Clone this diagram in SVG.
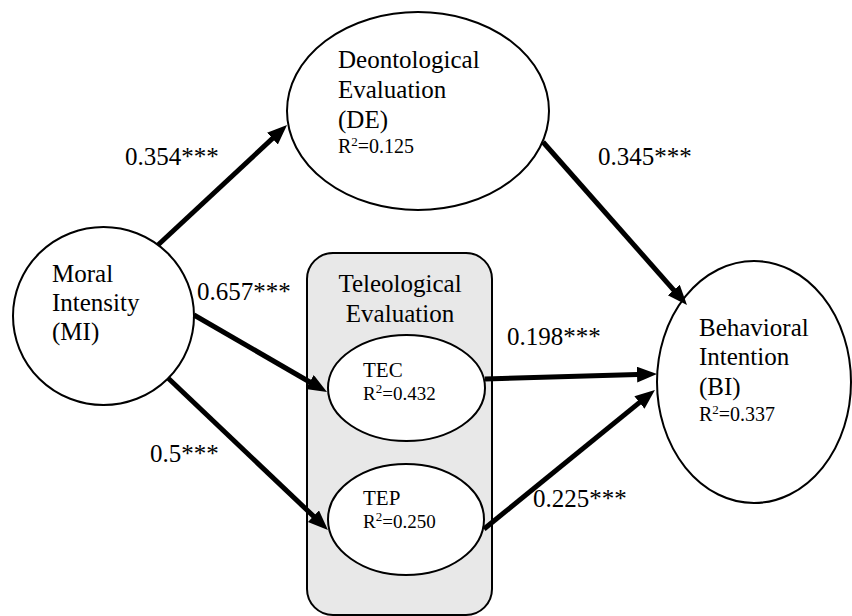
<svg xmlns="http://www.w3.org/2000/svg" width="852" height="616" viewBox="0 0 852 616" font-family="'Liberation Serif', 'Times New Roman', serif">
<defs>
<marker id="ah" markerUnits="userSpaceOnUse" markerWidth="22" markerHeight="18" refX="9" refY="8" orient="auto">
<path d="M0,0 L20,8 L0,16 z" fill="#000"/>
</marker>
<style>
text{font-family:'Liberation Serif','Times New Roman',serif;fill:#000}
.node{fill:#fff;stroke:#000;stroke-width:2}
.box{fill:#e8e8e8;stroke:#000;stroke-width:2}
.t{font-size:25px}
.r{font-size:20px}
.s{font-size:19px}
.sm{font-size:21px}
.sup{font-size:13px}
.c{stroke:#000;stroke-width:5;fill:none;marker-end:url(#ah)}
</style>
</defs>
<rect width="852" height="616" fill="#fff"/>

<g id="teleological-group">
<rect class="box" x="307" y="253" width="185" height="362" rx="26" ry="26"/>
<text class="t" x="400" y="292" text-anchor="middle">Teleological</text>
<text class="t" x="400" y="322" text-anchor="middle">Evaluation</text>
</g>

<g id="MI">
<ellipse class="node" cx="103.5" cy="316" rx="90.5" ry="89"/>
<text class="t" x="52" y="282">Moral</text>
<text class="t" x="52" y="311">Intensity</text>
<text class="t" x="52" y="340">(MI)</text>
</g>

<g id="DE">
<ellipse class="node" cx="418" cy="111" rx="131" ry="99"/>
<text class="t" x="338" y="68">Deontological</text>
<text class="t" x="338" y="98">Evaluation</text>
<text class="t" x="338" y="128">(DE)</text>
<text class="r" x="338" y="153">R<tspan class="sup" dy="-7">2</tspan><tspan dy="7">=0.125</tspan></text>
</g>

<g id="TEC">
<ellipse class="node" cx="406.5" cy="388" rx="78.5" ry="53"/>
<text class="sm" x="363" y="377">TEC</text>
<text class="s" x="363" y="400">R<tspan class="sup" dy="-7">2</tspan><tspan dy="7">=0.432</tspan></text>
</g>

<g id="TEP">
<ellipse class="node" cx="406" cy="519.5" rx="78" ry="55.5"/>
<text class="sm" x="363" y="505">TEP</text>
<text class="s" x="363" y="528">R<tspan class="sup" dy="-7">2</tspan><tspan dy="7">=0.250</tspan></text>
</g>

<g id="BI">
<ellipse class="node" cx="754" cy="382" rx="97" ry="121"/>
<text class="t" x="699" y="336">Behavioral</text>
<text class="t" x="699" y="365">Intention</text>
<text class="t" x="699" y="395">(BI)</text>
<text class="r" x="699" y="421">R<tspan class="sup" dy="-7">2</tspan><tspan dy="7">=0.337</tspan></text>
</g>

<g id="connectors">
<line class="c" x1="158" y1="245" x2="279" y2="132.4"/>
<line class="c" x1="194" y1="315" x2="317.5" y2="386.5"/>
<line class="c" x1="168" y1="378" x2="320" y2="522.4"/>
<line class="c" x1="543" y1="142" x2="679.7" y2="296.8"/>
<line class="c" x1="485" y1="379" x2="646" y2="374.3"/>
<line class="c" x1="484" y1="529" x2="646.4" y2="396.9"/>
</g>

<g id="labels">
<text class="t" x="125" y="165">0.354***</text>
<text class="t" x="197" y="300">0.657***</text>
<text class="t" x="150" y="462">0.5***</text>
<text class="t" x="598" y="165">0.345***</text>
<text class="t" x="507" y="345">0.198***</text>
<text class="t" x="533" y="507">0.225***</text>
</g>
</svg>
